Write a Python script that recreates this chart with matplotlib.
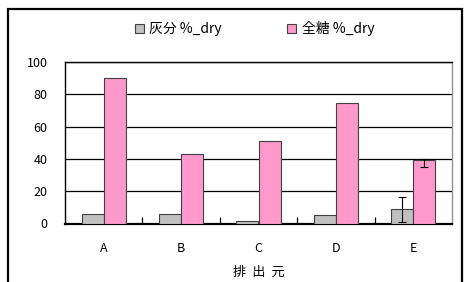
import matplotlib
matplotlib.use('Agg')
from matplotlib import pyplot as plt
from matplotlib.patches import Rectangle
import numpy as np

plt.rcParams['font.family'] = ['Noto Sans CJK JP', 'DejaVu Sans']

categories = ['A', 'B', 'C', 'D', 'E']
ash = [5.8, 5.8, 1.3, 5.2, 8.7]
sugar = [90, 43, 51.3, 74.5, 39.3]
# only source E has error bars
err_idx = 4
ash_err = 7.6
sugar_err_low = 4.4
sugar_err_high = 0.9
yticks = [0, 20, 40, 60, 80, 100]

fig = plt.figure(figsize=(4.67, 2.82), dpi=100)
# outer chart frame (open at the bottom, like the cropped original)
fig.patches.append(Rectangle((8/467, -0.1), (461.5-8)/467, 1.1 - 9/282,
                             transform=fig.transFigure, fill=False,
                             edgecolor='black', linewidth=1.6))

ax = fig.add_axes([65/467, 1-223.5/282, (452-65)/467, (223.5-62)/282])
x = np.arange(len(categories))
w = 0.285
ax.bar(x - w/2, ash, w, color='#C0C0C0', edgecolor='#404040', linewidth=0.8,
       label='灰分 %_dry', zorder=3)
ax.bar(x + w/2, sugar, w, color='#FF99CC', edgecolor='#404040', linewidth=0.8,
       label='全糖 %_dry', zorder=3)
ekw = dict(fmt='none', ecolor='black', elinewidth=0.8, capsize=3, capthick=0.8, zorder=4)
ax.errorbar(x[err_idx] - w/2, ash[err_idx], yerr=ash_err, **ekw)
ax.errorbar(x[err_idx] + w/2, sugar[err_idx], yerr=[[sugar_err_low], [sugar_err_high]], **ekw)

ax.set_xlim(-0.5, len(categories) - 0.5)
ax.set_ylim(0, 100)
ax.set_yticks(yticks)
ax.set_yticklabels([str(v) for v in yticks], fontsize=9)
ax.yaxis.grid(True, color='black', linewidth=0.9, zorder=0)
ax.tick_params(axis='y', length=0, pad=12.5)
ax.set_xticks(x)
ax.set_xticklabels(categories, fontsize=9)
ax.tick_params(axis='x', length=0, pad=13)
ax.set_xticks(np.arange(len(categories) - 1) + 0.5, minor=True)
ax.tick_params(axis='x', which='minor', direction='in', length=5, width=0.9, color='black')
ax.set_xlabel('排  出  元', fontsize=9.5, labelpad=8)

for s in ['left', 'top']:
    ax.spines[s].set_color('black')
    ax.spines[s].set_linewidth(1.0)
ax.spines['bottom'].set_linewidth(1.6)
ax.spines['right'].set_color('#909090')
ax.spines['right'].set_linewidth(1.0)

fig.legend(loc='center', bbox_to_anchor=(0.545, 1-29/282), ncol=2, frameon=False,
           fontsize=10, handlelength=0.65, handleheight=0.65, handletextpad=0.4,
           columnspacing=4.7)

fig.savefig('out.png', dpi=100)
